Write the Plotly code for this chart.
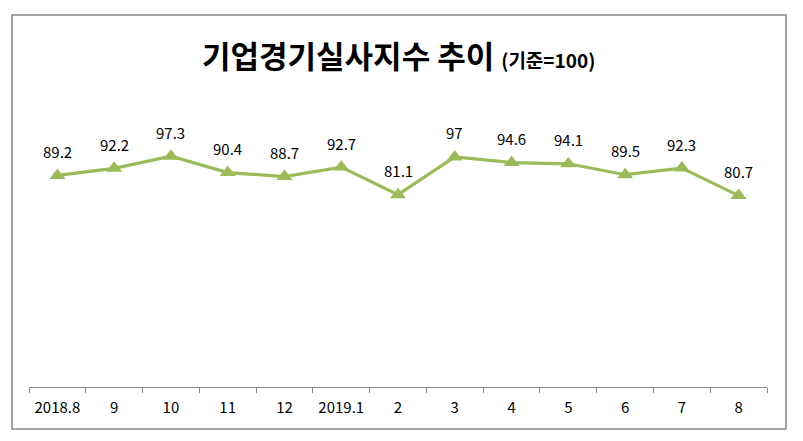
import plotly.graph_objects as go

categories = ["2018.8", "9", "10", "11", "12", "2019.1", "2", "3", "4", "5", "6", "7", "8"]
values = [89.2, 92.2, 97.3, 90.4, 88.7, 92.7, 81.1, 97, 94.6, 94.1, 89.5, 92.3, 80.7]
labels = ["89.2", "92.2", "97.3", "90.4", "88.7", "92.7", "81.1", "97", "94.6", "94.1", "89.5", "92.3", "80.7"]

W, H = 803, 441
L, R, T, B = 29, 36, 100, 54
pw = W - L - R
ph = H - T - B

def px_x(p):
    return (p - L) / pw

def px_y(p):
    return (H - B - p) / ph

FONT = "Noto Sans CJK KR"
GREEN = "#9BBB59"

fig = go.Figure()
fig.add_trace(go.Scatter(
    x=categories, y=values, mode="lines+markers",
    line=dict(color=GREEN, width=3.2),
    marker=dict(symbol="triangle-up", size=14, color=GREEN),
    hoverinfo="skip", showlegend=False,
))

for i, (v, t) in enumerate(zip(values, labels)):
    fig.add_annotation(x=i, y=v, text=t, showarrow=False, yshift=24,
                       font=dict(family=FONT, size=15, color="#000000"))

fig.add_annotation(
    xref="paper", yref="paper", x=0.5, y=px_y(55), yanchor="middle",
    text="<b>기업경기실사지수 추이</b> <b><span style='font-size:19px'>(기준=100)</span></b>",
    showarrow=False, font=dict(family=FONT, size=31, color="#000000"),
)

fig.add_shape(type="rect", xref="paper", yref="paper",
              x0=px_x(12), x1=px_x(786), y0=px_y(429), y1=px_y(15),
              line=dict(color="#868686", width=1.5), fillcolor="rgba(0,0,0,0)")

fig.update_layout(
    width=W, height=H,
    margin=dict(l=L, r=R, t=T, b=B),
    paper_bgcolor="white", plot_bgcolor="white",
    xaxis=dict(
        type="category", range=[-0.5, len(categories) - 0.5],
        tickson="boundaries", ticks="outside", ticklen=5, tickcolor="#868686",
        showline=True, linecolor="#868686", linewidth=1,
        showgrid=False, zeroline=False, ticklabelstandoff=7,
        tickfont=dict(family=FONT, size=15, color="#000000"),
    ),
    yaxis=dict(range=[0, 121], visible=False, showgrid=False, zeroline=False),
)

fig.write_html("out.html", config={"displayModeBar": False},
               post_script="document.body.style.margin='0';")
